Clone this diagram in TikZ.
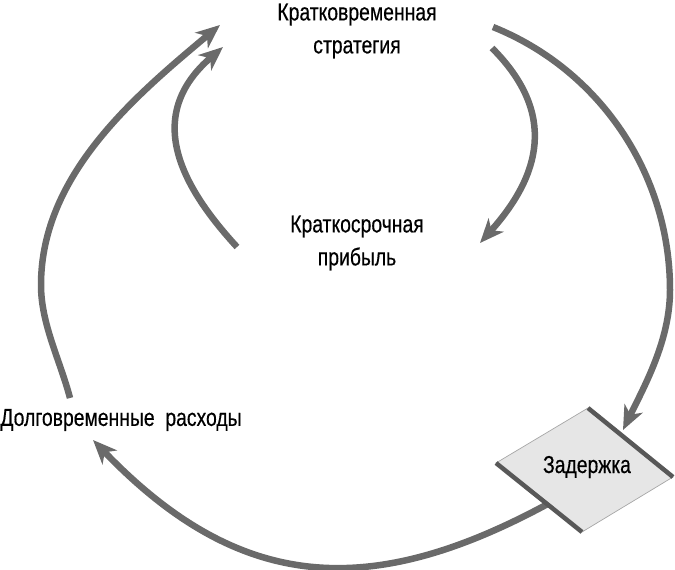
\documentclass[tikz,border=0pt]{standalone}
\usepackage{fontspec}
\setmainfont{Liberation Sans}[FakeStretch=0.79, FakeBold=0.4]
\usepackage{xcolor}
\usepackage{tikz}
\usetikzlibrary{arrows.meta, positioning}

\definecolor{loopgray}{HTML}{6A6A6A}
\definecolor{boxfill}{HTML}{E6E6E6}
\definecolor{boxedge}{HTML}{585858}

\begin{document}
\begin{tikzpicture}[x=1pt, y=-1pt, on grid,
        every node/.style={font=\fontsize{24.5}{33}\selectfont, align=center, inner sep=0pt},
        flow/.style={draw=loopgray, line width=6.5pt, -{Stealth[length=24pt, width=20pt, inset=7pt]}}]
        \useasboundingbox (0,0) rectangle (675,570);

        \node (strategy) at (357,31) {Кратковременная\\стратегия};
        \node (profit) [below=212pt of strategy] {Краткосрочная\\прибыль};
        \node (costs) at (121,420) {Долговременные\ \ расходы};

        % ends of the loops
        \coordinate (otop) at (493,27);
        \coordinate (odelay) at (623,430);
        \coordinate (dout) at (555,500);
        \coordinate (ocost) at (93,440);
        \coordinate (cout) at (70,398);
        \coordinate (ostrat) at (220,25);
        \coordinate (itop) at (492,48);
        \coordinate (iprofit) at (480,243);
        \coordinate (pout) at (237,247);
        \coordinate (istrat) at (223,47);

        \draw[flow] (otop) .. controls (600,70) and (670,174) .. (670,290)
            .. controls (670,340) and (645,385) .. (odelay);
        \draw[flow] (dout) .. controls (374,600) and (242,595) .. (ocost);
        \draw[flow] (cout) .. controls (60,360) and (41,324) .. (41,285)
            .. controls (41,175) and (135,96) .. (ostrat);
        \draw[flow] (itop) .. controls (558,114) and (540,176) .. (iprofit);
        \draw[flow] (pout) .. controls (181,186) and (143,116) .. (istrat);

        % delay box
        \coordinate (dT) at (588,408);
        \coordinate (dR) at (673,477);
        \coordinate (dB) at (582,532);
        \coordinate (dL) at (496,463);
        \filldraw[fill=boxfill, draw=gray!70, line width=0.7pt] (dT) -- (dR) -- (dB) -- (dL) -- cycle;
        \draw[boxedge, line width=4.5pt] (dT) -- (dR) (dL) -- (dB);
        \node (delay) at (587,467) {Задержка};
\end{tikzpicture}
\end{document}
